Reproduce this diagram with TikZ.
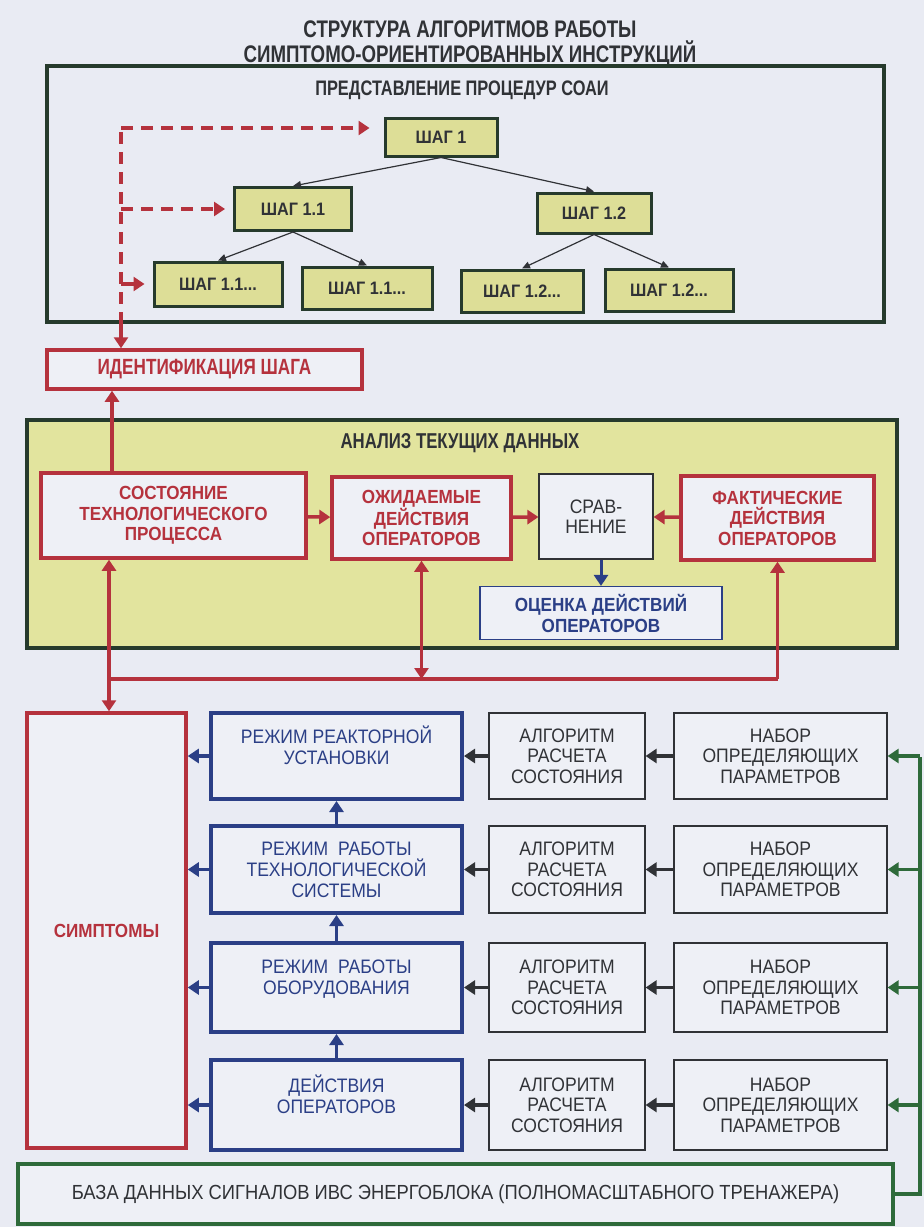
\documentclass[tikz,border=0pt]{standalone}
\usepackage{fontspec}
\setmainfont{Liberation Sans}[FakeStretch=0.9]
\newfontfamily\narrowfont{Liberation Sans}[FakeStretch=0.78]
\usetikzlibrary{arrows.meta,positioning,calc}
\usepackage{xcolor}
\definecolor{paper}{HTML}{E9EBF3}
\definecolor{boxbg}{HTML}{EEF0F6}
\definecolor{crimson}{HTML}{B5323D}
\definecolor{navy}{HTML}{2B3F86}
\definecolor{pine}{HTML}{2E6A3A}
\definecolor{framec}{HTML}{263A2C}
\definecolor{olive}{HTML}{DDDE97}
\definecolor{panelc}{HTML}{E2E49E}
\definecolor{ink}{HTML}{303236}
\newcommand{\setsz}[2]{\fontsize{#1}{#2}\selectfont}
\tikzset{
  >={Triangle[length=11pt,width=14pt]},
  stepbox/.style={draw=framec,line width=3pt,fill=olive,minimum height=41pt,inner sep=0pt,font=\bfseries\setsz{18}{20},text=ink},
  redbox/.style={draw=crimson,line width=3.5pt,fill=boxbg,align=center,inner sep=0pt,font=\bfseries\setsz{19}{20.5},text=crimson},
  bluebox/.style={draw=navy,line width=4pt,fill=boxbg,align=center,inner sep=0pt,font=\setsz{19.5}{21},text=navy},
  plainbox/.style={draw=ink,line width=1.2pt,fill=boxbg,align=center,inner sep=0pt,font=\setsz{19.5}{20.5},text=ink},
  heading/.style={font=\narrowfont\bfseries\setsz{21}{22},text=ink},
  arr/.style={->,line width=3.5pt},
  tree/.style={-{Triangle[length=8pt,width=7pt]},line width=1.2pt,draw=ink},
  dashline/.style={draw=crimson,line width=3.5pt,dash pattern=on 12pt off 8pt}
}

\begin{document}
\begin{tikzpicture}[x=1pt,y=-1pt]
  \fill[paper] (0,0) rectangle (924,1227);
  \useasboundingbox (0,0) rectangle (924,1227);

  % upper part
  \node[font=\narrowfont\bfseries\setsz{24}{25},text=ink,align=center] (title) at (470,44.5) {СТРУКТУРА АЛГОРИТМОВ РАБОТЫ\\СИМПТОМО-ОРИЕНТИРОВАННЫХ ИНСТРУКЦИЙ};
  \node[draw=framec,line width=3.5pt,minimum width=837pt,minimum height=256pt] (soai) at (465.5,194) {};
  \node[heading] (hdr) at (462,90) {ПРЕДСТАВЛЕНИЕ ПРОЦЕДУР СОАИ};

  \node[stepbox,minimum width=112pt,minimum height=38pt] (s1) at (441,137) {ШАГ 1};
  \node[stepbox,minimum width=117pt,minimum height=43pt] (s11) at (293,209) {ШАГ 1.1};
  \node[stepbox,minimum width=114pt,minimum height=40pt] (s12) at (594,213) {ШАГ 1.2};
  \node[stepbox,minimum width=128pt,minimum height=44pt] (s111) at (218,284) {ШАГ 1.1...};
  \node[stepbox,minimum width=130pt,minimum height=42pt] (s112) at (367,288) {ШАГ 1.1...};
  \node[stepbox,minimum width=122pt,minimum height=42pt] (s121) at (522,291) {ШАГ 1.2...};
  \node[stepbox,minimum width=128pt,minimum height=42pt] (s122) at (669,290) {ШАГ 1.2...};

  \draw[tree] (s1.south) -- (s11.north);
  \draw[tree] (s1.south) -- (s12.north);
  \draw[tree] (s11.south) -- (s111.north);
  \draw[tree] (s11.south) -- (s112.north);
  \draw[tree] (s12.south) -- (s121.north);
  \draw[tree] (s12.south) -- (s122.north);

  \node[redbox,minimum width=315pt,minimum height=39pt,font=\narrowfont\bfseries\setsz{22}{23}] (ident) at (204.5,369.5) {ИДЕНТИФИКАЦИЯ ШАГА};

  \coordinate (c0) at (121,128);
  \draw[dashline] (c0 |- soai.south) -- (c0);
  \draw[dashline,->,shorten >=14pt] (c0) -- (c0 -| s1.west);
  \draw[dashline,->,shorten >=8pt] (c0 |- s11.west) -- (s11.west);
  \draw[arr,crimson,shorten >=8pt] (c0 |- s111.west) -- (s111.west);
  \draw[arr,crimson] (c0 |- soai.south) -- (c0 |- ident.north);

  % analysis panel
  \node[draw=framec,line width=3.5pt,fill=panelc,minimum width=870pt,minimum height=228pt] (panel) at (462,534) {};
  \node[heading,font=\narrowfont\bfseries\setsz{21.5}{22}] (anl) at (460,443) {АНАЛИЗ ТЕКУЩИХ ДАННЫХ};
  \node[redbox,minimum width=265pt,minimum height=85pt] (sost) at (173.5,515.5) {СОСТОЯНИЕ\\ТЕХНОЛОГИЧЕСКОГО\\ПРОЦЕССА};
  \node[redbox,minimum width=179pt,minimum height=82pt] (ozh) at (421.5,518) {ОЖИДАЕМЫЕ\\ДЕЙСТВИЯ\\ОПЕРАТОРОВ};
  \node[plainbox,minimum width=114pt,minimum height=85pt] (srav) at (596,516.5) {СРАВ-\\НЕНИЕ};
  \node[redbox,minimum width=193pt,minimum height=84pt] (fakt) at (777.5,518) {ФАКТИЧЕСКИЕ\\ДЕЙСТВИЯ\\ОПЕРАТОРОВ};
  \node[plainbox,draw=navy,text=navy,font=\bfseries\setsz{19}{21},minimum width=242pt,minimum height=53pt] (ocen) at (601,613) {ОЦЕНКА ДЕЙСТВИЙ\\ОПЕРАТОРОВ};

  \draw[arr,crimson] (sost) -- (ozh);
  \draw[arr,crimson] (ozh) -- (srav);
  \draw[arr,crimson] (fakt) -- (srav);
  \draw[arr,navy,line width=3pt] (srav.south -| ocen.north) -- (ocen.north);
  \draw[arr,crimson] (sost.north -| c0) ++(-9,0) coordinate (up) -- (up |- ident.south);

  % symptoms and modes
  \node[redbox,minimum width=159pt,minimum height=435pt] (symp) at (106.5,930.5) {СИМПТОМЫ};

  \coordinate (bus) at (109,679);
  \draw[arr,crimson,<->] (bus |- sost.south) -- (bus |- symp.north);
  \draw[crimson,line width=3.5pt] (bus) -- (bus -| fakt.south);
  \draw[arr,crimson] (bus -| fakt.south) -- (fakt.south);
  \draw[arr,crimson,<->] (ozh.south) -- (ozh.south |- bus);

  \node[bluebox,minimum width=251pt,minimum height=86pt] (rm1) at (336.5,756) {РЕЖИМ РЕАКТОРНОЙ\\УСТАНОВКИ\\\mbox{}};
  \node[bluebox,minimum width=251pt,minimum height=87pt] (rm2) at (336.5,869.5) {РЕЖИМ\ \ РАБОТЫ\\ТЕХНОЛОГИЧЕСКОЙ\\СИСТЕМЫ};
  \node[bluebox,minimum width=251pt,minimum height=89pt] (rm3) at (336.5,987.5) {РЕЖИМ\ \ РАБОТЫ\\ОБОРУДОВАНИЯ\\\mbox{}};
  \node[bluebox,minimum width=251pt,minimum height=90pt] (rm4) at (336.5,1105) {ДЕЙСТВИЯ\\ОПЕРАТОРОВ\\\mbox{}};

  \foreach \r/\y/\h in {1/756/86,2/869.5/87,3/987.5/89,4/1105/90}{
    \node[plainbox,minimum width=156pt,minimum height=\h pt] (al\r) at (567,\y) {АЛГОРИТМ\\РАСЧЕТА\\СОСТОЯНИЯ};
    \node[plainbox,minimum width=213pt,minimum height=\h pt] (nb\r) at (780.5,\y) {НАБОР\\ОПРЕДЕЛЯЮЩИХ\\ПАРАМЕТРОВ};
    \draw[arr,navy] (rm\r.west) -- (rm\r.west -| symp.east);
    \draw[arr,ink] (al\r) -- (rm\r);
    \draw[arr,ink] (nb\r) -- (al\r);
  }
  \draw[arr,navy] (rm4) -- (rm3);
  \draw[arr,navy] (rm3) -- (rm2);
  \draw[arr,navy] (rm2) -- (rm1);

  % data base
  \node[draw=pine,line width=3.5pt,fill=boxbg,minimum width=875pt,minimum height=60pt,inner sep=0pt,font=\setsz{20.4}{22},text=ink] (base) at (455.5,1194) {БАЗА ДАННЫХ СИГНАЛОВ ИВС ЭНЕРГОБЛОКА (ПОЛНОМАСШТАБНОГО ТРЕНАЖЕРА)};
  \coordinate (gtop) at (920,757);
  \draw[pine,line width=3.5pt] (base.east) -| (gtop);
  \foreach \r in {1,...,4}
    \draw[arr,pine] (gtop |- nb\r.east) -- (nb\r.east);
\end{tikzpicture}
\end{document}
